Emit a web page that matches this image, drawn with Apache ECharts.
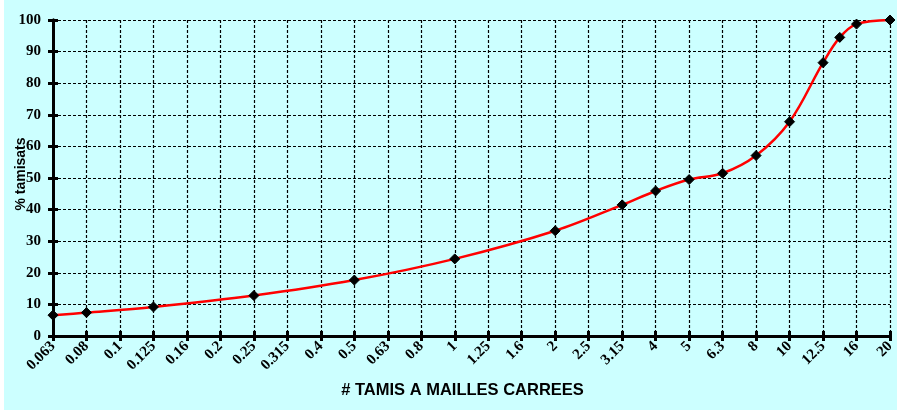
<!DOCTYPE html>
<html>
<head>
<meta charset="utf-8">
<script src="https://cdn.jsdelivr.net/npm/echarts@6/dist/echarts.min.js"></script>
<style>
html,body{margin:0;padding:0;background:#ffffff;}
#c{position:absolute;left:4px;top:0;width:893px;height:410px;}
</style>
</head>
<body>
<div id="c"></div>
<script>
// Sieve sizes shown as tick labels (mm)
var categories = ['0.063','0.08','0.1','0.125','0.16','0.2','0.25','0.315','0.4','0.5','0.63','0.8','1','1.25','1.6','2','2.5','3.15','4','5','6.3','8','10','12.5','16','20'];
// Position of each measured point along the sieve axis (category index)
var pointPos = [0, 1, 3, 6, 9, 12, 15, 17, 18, 19, 20, 21, 22, 23, 23.5, 24, 25];
// % passing (tamisats)
var passing = [6.6, 7.4, 9.2, 12.8, 17.7, 24.4, 33.3, 41.5, 45.9, 49.5, 51.5, 57.1, 67.8, 86.5, 94.5, 98.7, 100];
var yTicks = [0, 100, 10];

var data = pointPos.map(function (p, i) { return [p, passing[i]]; });
var chart = echarts.init(document.getElementById('c'));
var labelFont = {fontFamily: 'Liberation Serif', fontWeight: 'bold', color: '#000'};
var baseX = {
  type: 'value', min: 0, max: categories.length - 1, interval: 1, position: 'bottom',
  axisLine: {show: true, onZero: false, lineStyle: {color: '#000', width: 3}},
  splitLine: {show: false}
};
var baseY = {
  type: 'value', min: yTicks[0], max: yTicks[1], interval: yTicks[2], position: 'left',
  axisLine: {show: true, onZero: false, lineStyle: {color: '#000', width: 3}},
  splitLine: {show: false}
};
chart.setOption({
  backgroundColor: '#ccffff',
  animation: false,
  grid: {left: 49, right: 7, top: 20, bottom: 74, containLabel: false, outerBoundsMode: 'none'},
  xAxis: [
    Object.assign({}, baseX, {
      axisTick: {show: true, length: 5, lineStyle: {color: '#000', width: 3}},
      axisLabel: Object.assign({}, labelFont, {fontSize: 15, rotate: 45, margin: 8,
        formatter: function (v) { return categories[Math.round(v)]; }}),
      splitLine: {show: true, lineStyle: {color: '#000', width: 1.2, type: [3, 2]}},
      name: '# TAMIS A MAILLES CARREES', nameLocation: 'middle', nameGap: 46, nameMoveOverlap: false,
      nameTextStyle: {fontFamily: 'Liberation Sans', fontWeight: 'bold', fontSize: 16.5, color: '#000', padding: [0, 18, 0, 0]}
    }),
    Object.assign({}, baseX, {
      axisTick: {show: true, inside: true, length: 5, lineStyle: {color: '#000', width: 3}},
      axisLabel: {show: false}
    })
  ],
  yAxis: [
    Object.assign({}, baseY, {
      axisTick: {show: true, length: 5, lineStyle: {color: '#000', width: 3}},
      axisLabel: Object.assign({}, labelFont, {fontSize: 15, margin: 12}),
      splitLine: {show: true, lineStyle: {color: '#000', width: 1.2, type: [3, 2]}},
      name: '% tamisats', nameLocation: 'middle', nameGap: 25, nameRotate: 90, nameMoveOverlap: false,
      nameTextStyle: {fontFamily: 'Liberation Sans', fontWeight: 'bold', fontSize: 14, color: '#000', padding: [0, 0, 0, 8]}
    }),
    Object.assign({}, baseY, {
      axisTick: {show: true, inside: true, length: 5, lineStyle: {color: '#000', width: 3}},
      axisLabel: {show: false}
    })
  ],
  series: [{
    type: 'line', data: data, smooth: 0.35, xAxisIndex: 0, yAxisIndex: 0,
    lineStyle: {color: '#ff0000', width: 2.5},
    symbol: 'diamond', symbolSize: 10, showAllSymbol: true,
    itemStyle: {color: '#000', borderColor: '#000'},
    z: 5
  }]
});
</script>
</body>
</html>
